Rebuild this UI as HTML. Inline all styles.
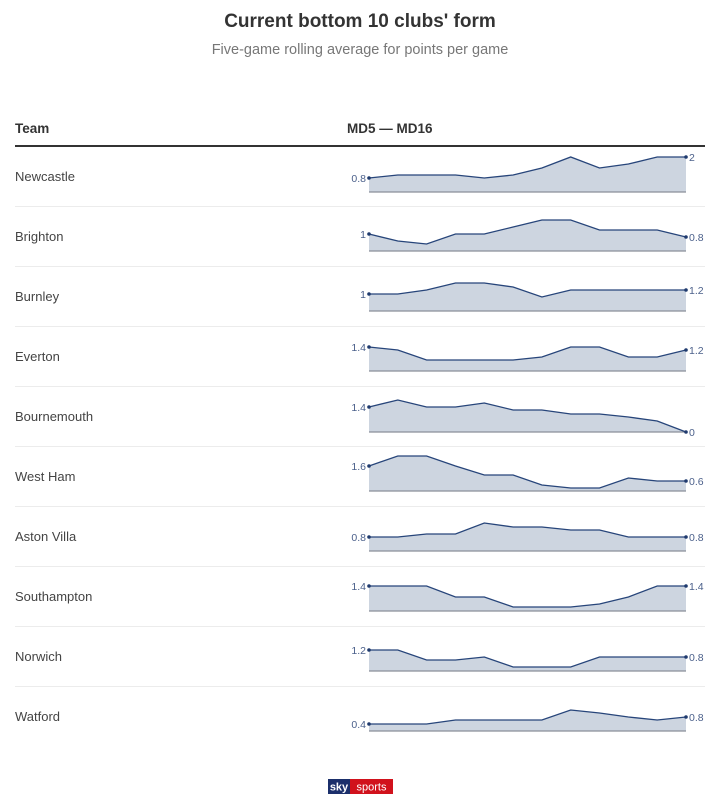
<!DOCTYPE html>
<html><head><meta charset="utf-8"><style>
html,body{margin:0;padding:0;background:#fff;}
svg{display:block;font-family:"Liberation Sans",sans-serif;}
</style></head><body>
<svg width="720" height="806" viewBox="0 0 720 806" xmlns="http://www.w3.org/2000/svg">
<text x="360" y="27" text-anchor="middle" font-size="19" font-weight="bold" fill="#333">Current bottom 10 clubs' form</text>
<text x="360" y="54" text-anchor="middle" font-size="14.5" fill="#777">Five-game rolling average for points per game</text>
<text x="15" y="133" font-size="13.5" font-weight="bold" fill="#333">Team</text>
<text x="347" y="133" font-size="13.5" font-weight="bold" fill="#333">MD5 — MD16</text>
<rect x="15" y="145" width="690" height="2" fill="#333"/>
<g id="rows"></g>
<g transform="translate(328,779)">
<rect x="0" y="0" width="22" height="15" fill="#1b2f6b"/>
<rect x="22" y="0" width="43" height="15" fill="#d1121c"/>
<text x="11" y="11.5" text-anchor="middle" font-size="11" font-weight="bold" fill="#fff">sky</text>
<text x="43.5" y="11.5" text-anchor="middle" font-size="11" fill="#fff">sports</text>
</g>
</svg>
<script>
const rows=[
["Newcastle",192,[178,175,175,175,178,175,168,157,168,164,157,157],"0.8","2"],
["Brighton",251,[234,241,244,234,234,227,220,220,230,230,230,237],"1","0.8"],
["Burnley",311,[294,294,290,283,283,287,297,290,290,290,290,290],"1","1.2"],
["Everton",371,[347,350,360,360,360,360,357,347,347,357,357,350],"1.4","1.2"],
["Bournemouth",432,[407,400,407,407,403,410,410,414,414,417,421,432],"1.4","0"],
["West Ham",491,[466,456,456,466,475,475,485,488,488,478,481,481],"1.6","0.6"],
["Aston Villa",551,[537,537,534,534,523,527,527,530,530,537,537,537],"0.8","0.8"],
["Southampton",611,[586,586,586,597,597,607,607,607,604,597,586,586],"1.4","1.4"],
["Norwich",671,[650,650,660,660,657,667,667,667,657,657,657,657],"1.2","0.8"],
["Watford",731,[724,724,724,720,720,720,720,710,713,717,720,717],"0.4","0.8"]];
let s="";const x0=369,x1=686,st=(x1-x0)/11;
rows.forEach((r,i)=>{
 const [n,b,ys,l,rl]=r;const rowMid=176+i*60;
 s+=`<text x="15" y="${rowMid+5}" font-size="13" fill="#444">${n}</text>`;
 if(i<9)s+=`<rect x="15" y="${206+i*60}" width="690" height="1" fill="#ececec"/>`;
 const pts=ys.map((y,k)=>`${(x0+k*st).toFixed(1)},${y}`).join(" ");
 s+=`<polygon points="${x0},${b} ${pts} ${x1},${b}" fill="#cdd5e0"/>`;
 s+=`<line x1="${x0}" y1="${b}" x2="${x1}" y2="${b}" stroke="#8a8f99" stroke-width="1.2"/>`;
 s+=`<polyline points="${pts}" fill="none" stroke="#27457a" stroke-width="1.3"/>`;
 s+=`<circle cx="${x0}" cy="${ys[0]}" r="1.8" fill="#1f3a6e"/><circle cx="${x1}" cy="${ys[11]}" r="1.8" fill="#1f3a6e"/>`;
 s+=`<text x="366" y="${ys[0]+4}" text-anchor="end" font-size="10.5" fill="#4a5f8a">${l}</text>`;
 s+=`<text x="689" y="${ys[11]+4}" font-size="10.5" fill="#4a5f8a">${rl}</text>`;
});
document.getElementById("rows").innerHTML=s;
</script>
</body></html>
